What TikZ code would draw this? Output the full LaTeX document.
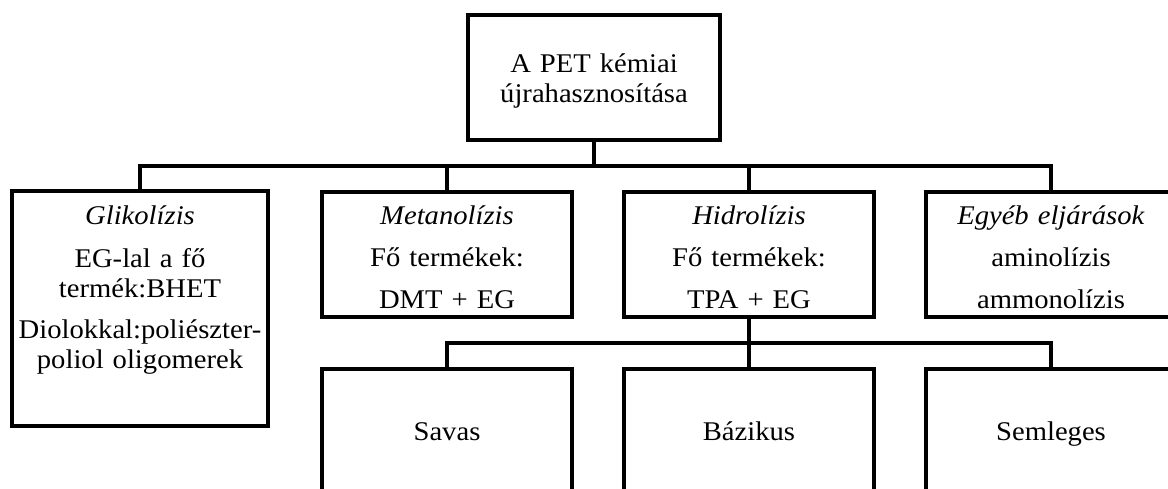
\documentclass[tikz,border=0pt]{standalone}
\usepackage{fontspec}
\setmainfont{Liberation Serif}[FakeStretch=1.06]
\usetikzlibrary{positioning}

\begin{document}
\begin{tikzpicture}[x=1pt,y=1pt,node distance=52pt,line width=4pt,
                    font=\fontsize{27}{30}\selectfont]
  \tikzstyle{every node}=[draw,inner sep=0pt,outer sep=0pt,align=center]
  \tikzstyle{root}=[text width=252pt,text height=57pt,text depth=68pt]
  \tikzstyle{lvl}=[text width=250pt,text height=32pt,text depth=93pt]
  \tikzstyle{tall}=[text width=256pt,text height=33pt,text depth=202pt]
  \tikzstyle{leaf}=[text width=250pt,text height=71pt,text depth=60pt]

  \useasboundingbox (0,0) rectangle (1168,-488);
  \clip (0,0) rectangle (1168,-488);

  \node[root,anchor=north] (pet) at (594,-15) {A PET kémiai\\ újrahasznosítása};

  \node[lvl,anchor=north]          (metan) at (447,-192) {\textit{Metanolízis}\\[12pt] Fő termékek:\\[12pt] DMT + EG};
  \node[lvl,base right=52pt of metan] (hidro) {\textit{Hidrolízis}\\[12pt] Fő termékek:\\[12pt] TPA + EG};
  \node[lvl,base right=52pt of hidro] (egyeb) {\textit{Egyéb eljárások}\\[12pt] aminolízis\\[12pt] ammonolízis};
  \node[tall,base left=54pt of metan] (glik) {\textit{Glikolízis}\\[13pt] EG-lal a fő\\ termék:BHET\\[11pt] Diolokkal:poliészter-\\ poliol oligomerek};

  \node[leaf,below=of metan]          (savas) {Savas};
  \node[leaf,base right=52pt of savas] (bazikus) {Bázikus};
  \node[leaf,base right=52pt of bazikus] (semleges) {Semleges};

  % fa-szerkezet vonalai
  \draw (pet.south) -- ++(0,-26) coordinate (bus)
        (bus) -| (glik.north)
        (bus) -| (metan.north)
        (bus) -| (hidro.north)
        (bus) -| (egyeb.north);
  \draw (hidro.south) -- ++(0,-26) coordinate (bus2)
        (bus2) -| (savas.north)
        (bus2) -| (bazikus.north)
        (bus2) -| (semleges.north);
\end{tikzpicture}
\end{document}
